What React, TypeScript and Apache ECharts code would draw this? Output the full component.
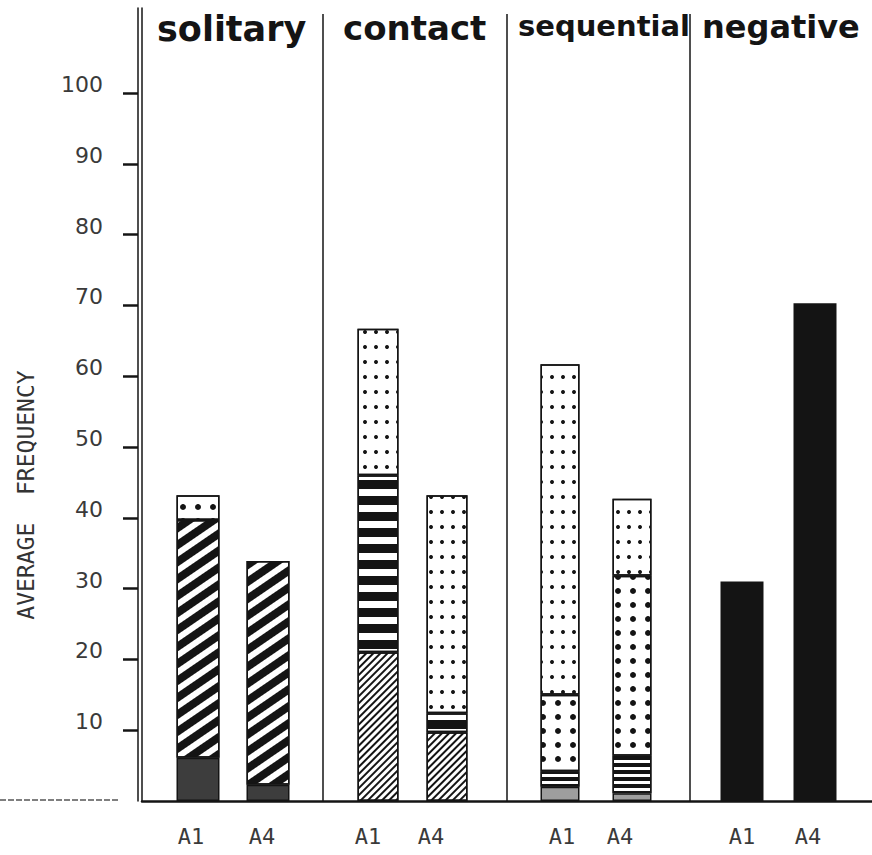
import React, { useEffect, useRef } from 'react';
import * as echarts from 'echarts';

// ---- data -------------------------------------------------------------
const groups = ['solitary', 'contact', 'sequential', 'negative'];
const categories = ['A1', 'A4'];
const yTickValues = [10, 20, 30, 40, 50, 60, 70, 80, 90, 100];

// stacked layer thicknesses, bottom to top, values for [A1, A4]
const solitaryStipple = [6.1, 2.3];
const solitaryStripes = [33.6, 31.6];
const solitaryDots = [3.5, 0];
const contactHatch = [21.0, 9.7];
const contactStripes = [25.0, 2.7];
const contactDots = [20.7, 30.8];
const sequentialStipple = [2.0, 1.1];
const sequentialStripes = [2.2, 5.3];
const sequentialLargeDots = [10.8, 25.4];
const sequentialSmallDots = [46.7, 10.9];
const negativeSolid = [31.0, 70.3];

// ---- layout / style ----------------------------------------------------
const ink = '#141414';
const AXIS_MAX = 112;
const GRID_TOP = 8;
const GRID_BOTTOM = 54;
const groupGrids = [
  { left: 163, width: 140, barWidth: 43, labelShift: [-7, -6] },
  { left: 343.5, width: 138, barWidth: 41, labelShift: [-10, -16] },
  { left: 524, width: 144, barWidth: 39, labelShift: [2, -12] },
  { left: 705.5, width: 146, barWidth: 43, labelShift: [0, -7] },
];
const separatorsX = [323, 507, 690];
const titleStyles = [
  { left: 152, fontSize: 35 },
  { left: 338, fontSize: 34 },
  { left: 513, fontSize: 29 },
  { left: 697, fontSize: 32 },
];

const patterns: Record<string, any> = {
  stipple: { color: '#3d3d3d' },
  lightStipple: { color: '#9e9e9e' },
  boldDiagonal: {
    color: '#fff',
    decal: { symbol: 'rect', color: ink, dashArrayX: [1, 0], dashArrayY: [8, 6], rotation: -0.6 },
  },
  fineHatch: {
    color: '#fff',
    decal: { symbol: 'rect', color: ink, dashArrayX: [1, 0], dashArrayY: [2, 3], rotation: -Math.PI / 4 },
  },
  thickStripes: {
    color: '#fff',
    decal: { symbol: 'rect', color: ink, dashArrayX: [1, 0], dashArrayY: [9, 7], rotation: 0 },
  },
  thinStripes: {
    color: '#fff',
    decal: { symbol: 'rect', color: ink, dashArrayX: [1, 0], dashArrayY: [3.5, 3], rotation: 0 },
  },
  smallDots: {
    color: '#fff',
    decal: { symbol: 'circle', color: ink, dashArrayX: [3.2, 7], dashArrayY: [3.2, 10.5], rotation: 0 },
  },
  bigDots: {
    color: '#fff',
    decal: { symbol: 'circle', color: ink, dashArrayX: [5.5, 9], dashArrayY: [5.5, 8], rotation: 0 },
  },
  solid: { color: ink },
};

const layers = [
  [
    { name: 'solitary base', values: solitaryStipple, pattern: 'stipple' },
    { name: 'solitary stripes', values: solitaryStripes, pattern: 'boldDiagonal' },
    { name: 'solitary dots', values: solitaryDots, pattern: 'bigDots' },
  ],
  [
    { name: 'contact hatch', values: contactHatch, pattern: 'fineHatch' },
    { name: 'contact stripes', values: contactStripes, pattern: 'thickStripes' },
    { name: 'contact dots', values: contactDots, pattern: 'smallDots' },
  ],
  [
    { name: 'sequential base', values: sequentialStipple, pattern: 'lightStipple' },
    { name: 'sequential stripes', values: sequentialStripes, pattern: 'thinStripes' },
    { name: 'sequential large dots', values: sequentialLargeDots, pattern: 'bigDots' },
    { name: 'sequential small dots', values: sequentialSmallDots, pattern: 'smallDots' },
  ],
  [{ name: 'negative', values: negativeSolid, pattern: 'solid' }],
];

function shiftPadding(d: number) {
  // centred label: shift by d px using asymmetric padding
  return d < 0 ? [0, -2 * d, 0, 0] : [0, 0, 0, 2 * d];
}

function buildOption() {
  const grid: any[] = [{ left: 142, right: 0, top: GRID_TOP, bottom: GRID_BOTTOM }];
  const xAxis: any[] = [
    {
      gridIndex: 0,
      type: 'value',
      min: 0,
      max: 1,
      axisLine: { show: true, onZero: false, lineStyle: { color: ink, width: 2.5 } },
      axisTick: { show: false },
      axisLabel: { show: false },
      splitLine: { show: false },
    },
  ];
  const yAxis: any[] = [
    {
      gridIndex: 0,
      type: 'value',
      min: 0,
      max: AXIS_MAX,
      position: 'left',
      axisLine: { show: true, onZero: false, lineStyle: { color: ink, width: 1.5 } },
      axisTick: { show: false },
      axisLabel: { show: false },
      splitLine: { show: false },
    },
    {
      gridIndex: 0,
      type: 'value',
      min: 0,
      max: AXIS_MAX,
      interval: 10,
      position: 'left',
      offset: 4,
      axisLine: { show: true, onZero: false, lineStyle: { color: ink, width: 1.5 } },
      axisTick: {
        show: true,
        length: 15,
        customValues: yTickValues,
        lineStyle: { color: ink, width: 2.5 },
      },
      axisLabel: {
        show: true,
        customValues: yTickValues,
        margin: 35,
        fontFamily: 'DejaVu Sans',
        fontSize: 22,
        color: '#3a3a3a',
        verticalAlign: 'bottom',
        lineHeight: 17,
      },
      splitLine: { show: false },
    },
  ];
  const series: any[] = [];
  const title: any[] = [];

  groups.forEach((g, gi) => {
    const gg = groupGrids[gi];
    grid.push({ left: gg.left, width: gg.width, top: GRID_TOP, bottom: GRID_BOTTOM });
    xAxis.push({
      gridIndex: gi + 1,
      type: 'category',
      data: categories,
      axisLine: { show: false },
      axisTick: { show: false },
      axisLabel: {
        margin: 24,
        formatter: (v: string, i: number) => `{s${i}|${v}}`,
        rich: {
          s0: {
            fontFamily: 'DejaVu Sans Mono',
            fontSize: 22,
            color: '#3a3a3a',
            padding: shiftPadding(gg.labelShift[0]),
          },
          s1: {
            fontFamily: 'DejaVu Sans Mono',
            fontSize: 22,
            color: '#3a3a3a',
            padding: shiftPadding(gg.labelShift[1]),
          },
        },
      },
    });
    yAxis.push({ gridIndex: gi + 1, type: 'value', min: 0, max: AXIS_MAX, show: false });
    layers[gi].forEach((layer) => {
      const p = patterns[layer.pattern];
      series.push({
        type: 'bar',
        name: layer.name,
        xAxisIndex: gi + 1,
        yAxisIndex: gi + 2,
        stack: g,
        barWidth: gg.barWidth,
        data: layer.values.map((v) => (v > 0 ? v : null)),
        itemStyle: {
          color: p.color,
          decal: p.decal,
          borderColor: ink,
          borderWidth: 1.5,
        },
      });
    });
    title.push({
      text: g,
      left: titleStyles[gi].left,
      top: 6,
      textStyle: {
        fontFamily: 'DejaVu Sans',
        fontWeight: 'bold',
        fontSize: titleStyles[gi].fontSize,
        color: ink,
      },
    });
  });

  const graphic: any[] = separatorsX.map((x) => ({
    type: 'line',
    shape: { x1: x, y1: 14, x2: x, y2: 801 },
    style: { stroke: ink, lineWidth: 1.5 },
  }));
  graphic.push({
    type: 'line',
    shape: { x1: 0, y1: 800, x2: 118, y2: 800 },
    style: { stroke: '#555', lineWidth: 1.5, lineDash: [6, 2] },
  });
  graphic.push({
    type: 'text',
    x: 26,
    y: 495,
    rotation: Math.PI / 2,
    style: {
      text: 'AVERAGE  FREQUENCY',
      fontFamily: 'DejaVu Sans Mono',
      fontSize: 23,
      fill: '#333',
      align: 'center',
      verticalAlign: 'middle',
    },
  });

  return {
    animation: false,
    backgroundColor: '#ffffff',
    title,
    grid,
    xAxis,
    yAxis,
    series,
    graphic,
  };
}

export default function App() {
  const ref = useRef<HTMLDivElement>(null);
  useEffect(() => {
    if (!ref.current) return;
    const chart = echarts.init(ref.current, null, { renderer: 'svg' });
    chart.setOption(buildOption());
    return () => chart.dispose();
  }, []);
  return <div ref={ref} style={{ width: 872, height: 855, position: 'absolute', left: 0, top: 0 }} />;
}
